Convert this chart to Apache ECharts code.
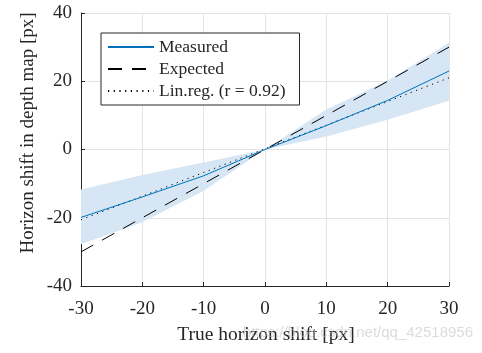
<!DOCTYPE html>
<html>
<head>
<meta charset="utf-8">
<script src="https://cdn.jsdelivr.net/npm/echarts@6/dist/echarts.min.js"></script>
<style>
  html, body { margin: 0; padding: 0; background: #fff; }
  #chart { width: 482px; height: 353px; }
</style>
</head>
<body>
<div id="chart"></div>
<script>
// 数据
const xs = [-30, -20, -10, 0, 10, 20, 30];
const measured = [-19.9, -13.9, -7.7, 0, 7.0, 14.4, 23.0];
const bandLow = [-27.8, -21.3, -12.1, 0, 3.8, 8.7, 14.3];
const bandHigh = [-11.7, -7.5, -3.8, 0, 11.7, 20.2, 31.3];
const expected = [-30, -20, -10, 0, 10, 20, 30];
const linregX = [-30, 30];
const linregY = [-20.6, 21.0];
const xTicks = [-30, -20, -10, 0, 10, 20, 30];
const yTicks = [-40, -20, 0, 20, 40];

const serif = '"Liberation Serif", "DejaVu Serif", serif';
const pairs = (a, b) => a.map((v, i) => [v, b[i]]);

const chart = echarts.init(document.getElementById('chart'));

// 置信带：上沿正向 + 下沿反向，拼成一个多边形
const renderBand = (params, api) => {
    if (params.dataIndex !== 0) return null;
    const upper = xs.map((x, i) => api.coord([x, bandHigh[i]]));
    const lower = xs.map((x, i) => api.coord([x, bandLow[i]])).reverse();
    return {
        type: 'polygon',
        shape: { points: upper.concat(lower) },
        style: { fill: '#d7e6f4', stroke: null }
    };
};

const option = {
    animation: false,
    grid: { left: 81, right: 33, top: 13, bottom: 67 },
    xAxis: {
        type: 'value',
        min: xTicks[0], max: xTicks[xTicks.length - 1], interval: 10,
        axisLine: { onZero: false, lineStyle: { color: '#262626', width: 1 } },
        axisTick: { inside: true, length: 4, lineStyle: { color: '#262626' } },
        axisLabel: { color: '#262626', fontFamily: serif, fontSize: 19, margin: 14 },
        splitLine: { show: true, lineStyle: { color: '#e3e3e3', width: 1 } }
    },
    yAxis: {
        type: 'value',
        min: yTicks[0], max: yTicks[yTicks.length - 1], interval: 20,
        axisLine: { show: true, onZero: false, lineStyle: { color: '#262626', width: 1 } },
        axisTick: { show: true, inside: true, length: 4, lineStyle: { color: '#262626' } },
        axisLabel: { color: '#262626', fontFamily: serif, fontSize: 19, margin: 9 },
        splitLine: { show: true, lineStyle: { color: '#e3e3e3', width: 1 } }
    },
    legend: {
        data: ['Measured', 'Expected', 'Lin.reg. (r = 0.92)'],
        orient: 'vertical',
        left: 101, top: 33,
        padding: [5, 14, 5, 6],
        itemGap: 4,
        itemWidth: 46, itemHeight: 18,
        borderColor: '#262626', borderWidth: 1,
        backgroundColor: '#fff',
        itemStyle: { opacity: 0 },
        textStyle: { color: '#262626', fontFamily: serif, fontSize: 17.5, lineHeight: 18 }
    },
    graphic: [
        {
            type: 'text', x: 28, y: 133, rotation: Math.PI / 2,
            style: {
                text: 'Horizon shift in depth map [px]', fill: '#262626',
                font: '19px ' + serif, align: 'center', verticalAlign: 'middle'
            }
        },
        {
            type: 'text', x: 266, y: 335,
            style: {
                text: 'True horizon shift [px]', fill: '#262626',
                font: '19.5px ' + serif, align: 'center', verticalAlign: 'middle'
            }
        },
        {
            type: 'text', x: 473, y: 333, z: 100,
            style: {
                text: 'https://blog.csdn.net/qq_42518956', fill: 'rgba(190,190,190,0.55)',
                font: '15px "Liberation Sans", Arial, sans-serif', align: 'right', verticalAlign: 'middle'
            }
        }
    ],
    series: [
        {
            name: 'band', type: 'custom', silent: true,
            data: pairs(xs, bandLow),
            renderItem: renderBand,
            z: 1
        },
        {
            name: 'Expected', type: 'line', data: pairs(xs, expected), symbol: 'none',
            color: '#000', z: 2,
            lineStyle: { color: '#000', width: 1, type: [14, 10] }
        },
        {
            name: 'Lin.reg. (r = 0.92)', type: 'line', data: pairs(linregX, linregY), symbol: 'none',
            color: '#000', z: 3,
            lineStyle: { color: '#000', width: 1, type: [1.2, 4.5] }
        },
        {
            name: 'Measured', type: 'line', data: pairs(xs, measured), symbol: 'none',
            color: '#0072bd', z: 4,
            lineStyle: { color: '#0072bd', width: 1 }
        }
    ]
};

chart.setOption(option, true);
</script>
</body>
</html>
